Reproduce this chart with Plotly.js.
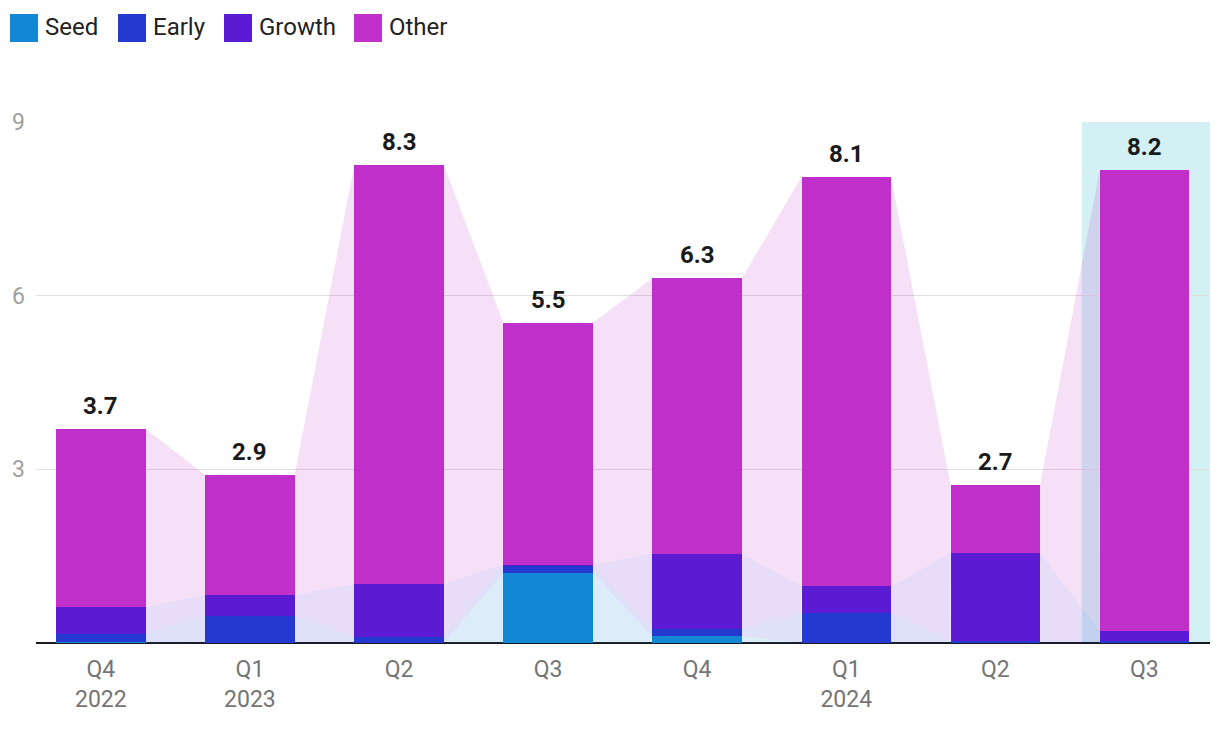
<!DOCTYPE html>
<html>
<head>
<meta charset="utf-8">
<script src="https://cdn.plot.ly/plotly-3.0.1.min.js"></script>
<style>html,body{margin:0;padding:0;background:#fff;}#chart{width:1220px;height:732px;}</style>
</head>
<body>
<div id="chart"></div>
<script>
const quarters = ['Q4', 'Q1', 'Q2', 'Q3', 'Q4', 'Q1', 'Q2', 'Q3'];
const years = ['2022', '2023', '', '', '', '2024', '', ''];
const seed = [0.02, 0, 0, 1.21, 0.12, 0, 0, 0];
const early = [0.14, 0.47, 0.10, 0.12, 0.12, 0.52, 0.03, 0.03];
const growth = [0.46, 0.36, 0.92, 0.02, 1.30, 0.46, 1.52, 0.18];
const other = [3.08, 2.07, 7.24, 4.18, 4.76, 7.07, 1.18, 7.96];
const totalLabels = ['3.7', '2.9', '8.3', '5.5', '6.3', '8.1', '2.7', '8.2'];
const seriesNames = ['Seed', 'Early', 'Growth', 'Other'];
const seriesColors = ['#1288D4', '#2339D0', '#5B1BD3', '#C02FCA'];
const bandColors = ['rgba(18,136,212,0.15)', 'rgba(35,57,208,0.15)', 'rgba(91,27,211,0.15)', 'rgba(192,47,202,0.15)'];

const series = [seed, early, growth, other];
const xs = quarters.map((q, i) => i);
const ticktext = quarters.map((q, i) => years[i] ? q + '<br>' + years[i] : q);
const halfW = 0.3;

// cumulative bases
const bases = [];
const tops = [];
let run = xs.map(() => 0);
series.forEach((s, k) => {
  bases.push(run.slice());
  run = run.map((v, i) => v + s[i]);
  tops.push(run.slice());
});

const traces = [];
// connecting bands
series.forEach((s, k) => {
  for (let i = 0; i < xs.length - 1; i++) {
    traces.push({
      type: 'scatter', mode: 'lines',
      x: [xs[i] + halfW, xs[i] + halfW, xs[i + 1] - halfW, xs[i + 1] - halfW, xs[i] + halfW],
      y: [bases[k][i], tops[k][i], tops[k][i + 1], bases[k][i + 1], bases[k][i]],
      fill: 'toself', fillcolor: bandColors[k],
      line: {width: 0, color: 'rgba(0,0,0,0)'},
      hoverinfo: 'skip', showlegend: false
    });
  }
});
// bars
series.forEach((s, k) => {
  traces.push({
    type: 'bar', x: xs, y: s, name: seriesNames[k], width: 0.6,
    marker: {color: seriesColors[k], line: {width: 0}},
    showlegend: false
  });
});

const plotL = 36, plotR = 1210, plotT = 122, plotB = 643;
const px2x = p => (p - plotL) / (plotR - plotL);
const py2y = p => (plotB - p) / (plotB - plotT);

const shapes = [{
  type: 'rect', layer: 'below', xref: 'x', yref: 'y',
  x0: 6.58, x1: 7.44, y0: 0, y1: 9,
  fillcolor: '#D3F0F4', line: {width: 0}
}];
const annotations = [];
const legendX = [10, 118, 224, 354];
seriesNames.forEach((n, k) => {
  shapes.push({
    type: 'rect', xref: 'paper', yref: 'paper',
    x0: px2x(legendX[k]), x1: px2x(legendX[k] + 28),
    y0: py2y(42), y1: py2y(14),
    fillcolor: seriesColors[k], line: {width: 0}
  });
  annotations.push({
    xref: 'paper', yref: 'paper', x: px2x(legendX[k] + 33), y: py2y(27),
    xanchor: 'left', yanchor: 'middle', showarrow: false, text: n,
    font: {family: 'Roboto', size: 24, color: '#222222'}
  });
});
xs.forEach((x, i) => {
  annotations.push({
    x: x, y: tops[3][i], xref: 'x', yref: 'y', text: totalLabels[i],
    showarrow: false, yanchor: 'bottom', yshift: 7,
    font: {family: 'Roboto', size: 24, color: '#1a1a1a', weight: 'bold'}
  });
});

const layout = {
  width: 1220, height: 732,
  margin: {l: plotL, r: 1220 - plotR, t: plotT, b: 732 - plotB},
  paper_bgcolor: '#ffffff', plot_bgcolor: 'rgba(0,0,0,0)',
  barmode: 'stack', showlegend: false,
  font: {family: 'Roboto', size: 23, color: '#757575'},
  xaxis: {
    range: [-0.435, 7.44], tickvals: xs, ticktext: ticktext,
    showgrid: false, zeroline: false, showline: false, ticks: '',
    ticklabelstandoff: 10,
    tickfont: {family: 'Roboto', size: 23, color: '#757575'}, fixedrange: true
  },
  yaxis: {
    range: [0, 9], tickvals: [3, 6, 9], showgrid: true, gridcolor: '#e0e0e0', gridwidth: 1.5,
    zeroline: true, zerolinecolor: '#1a1a22', zerolinewidth: 2.5, showline: false,
    ticks: '', ticklabelstandoff: 10,
    tickfont: {family: 'Roboto', size: 23, color: '#a0a0a0'}, fixedrange: true
  },
  shapes: shapes, annotations: annotations
};
Plotly.newPlot('chart', traces, layout, {displayModeBar: false, staticPlot: true});
</script>
</body>
</html>
